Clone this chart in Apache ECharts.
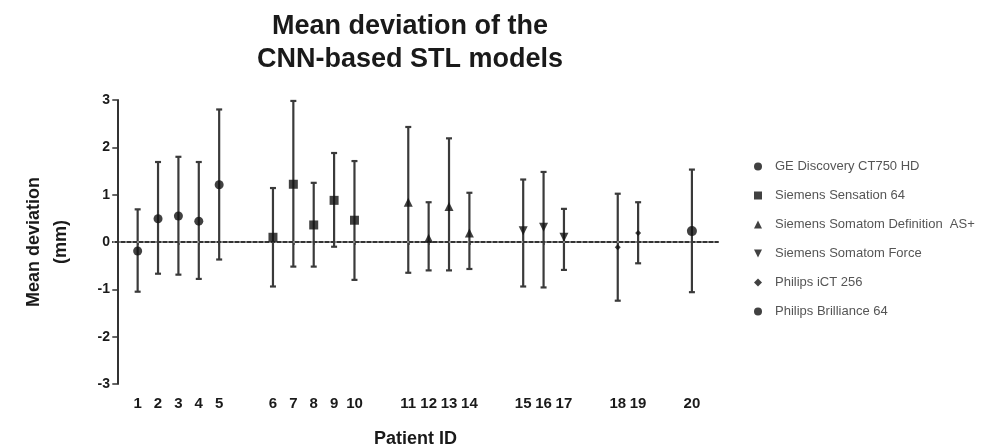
<!DOCTYPE html>
<html>
<head>
<meta charset="utf-8">
<script src="https://cdn.jsdelivr.net/npm/echarts@6/dist/echarts.min.js"></script>
<style>html,body{margin:0;padding:0;background:#fff;}#c{width:988px;height:448px;}</style>
</head>
<body>
<div id="c"></div>
<script>
// ---- data ----
var patients = [1,2,3,4,5,6,7,8,9,10,11,12,13,14,15,16,17,18,19,20];
var means = [-0.19,0.49,0.55,0.44,1.21, 0.10,1.22,0.36,0.88,0.46, 0.84,0.08,0.75,0.19, 0.24,0.31,0.10, -0.11,0.19, 0.23];
var lowers = [-1.05,-0.67,-0.69,-0.78,-0.37, -0.94,-0.52,-0.52,-0.10,-0.80, -0.65,-0.60,-0.60,-0.57, -0.94,-0.96,-0.59, -1.24,-0.45, -1.06];
var uppers = [0.69,1.69,1.80,1.69,2.80, 1.14,2.98,1.25,1.88,1.71, 2.43,0.84,2.19,1.04, 1.32,1.48,0.70, 1.02,0.84, 1.53];
var scanners = ['GE Discovery CT750 HD','Siemens Sensation 64','Siemens Somatom Definition  AS+','Siemens Somatom Force','Philips iCT 256','Philips Brilliance 64'];
var groupSizes = [5,5,4,3,2,1];
var yTicks = [-3,-2,-1,0,1,2,3];

// ---- layout helpers ----
var GAP = 1.64;
var groupOf = [];
groupSizes.forEach(function(n, g){ for (var k=0;k<n;k++) groupOf.push(g); });
var xPos = patients.map(function(p, i){ return (i+1) + groupOf[i]*GAP; });

var symbols = ['circle','rect','triangle','path://M0,0 L10,0 L5,10 Z','diamond','circle'];
var symSizes = [9,9,9,9,6,10];

var FONT = 'Liberation Sans, Arial, sans-serif';
var series = [];
scanners.forEach(function(name, g){
  var d = [];
  patients.forEach(function(p,i){ if (groupOf[i]===g) d.push([xPos[i], means[i]]); });
  series.push({
    name: name, type: 'scatter', data: d, symbol: symbols[g], symbolSize: symSizes[g],
    itemStyle: {color: '#111'}, z: 5
  });
});
series.push({
  type: 'custom', name: 'err', z: 3,
  data: patients.map(function(p,i){ return [xPos[i], lowers[i], uppers[i]]; }),
  renderItem: function(params, api){
    var lo = api.coord([api.value(0), api.value(1)]);
    var hi = api.coord([api.value(0), api.value(2)]);
    var w = 3;
    var st = {stroke:'#3a3a3a', lineWidth:2.2};
    return {type:'group', children:[
      {type:'line', shape:{x1:lo[0],y1:lo[1],x2:hi[0],y2:hi[1]}, style:st},
      {type:'line', shape:{x1:lo[0]-w,y1:lo[1],x2:lo[0]+w,y2:lo[1]}, style:st},
      {type:'line', shape:{x1:hi[0]-w,y1:hi[1],x2:hi[0]+w,y2:hi[1]}, style:st}
    ]};
  },
  markLine: {
    silent: true, symbol: 'none', label: {show:false},
    lineStyle: {type:[2,4], color:'#9a9a9a', width:1.5},
    data: [{yAxis: 0}]
  }
});

var chart = echarts.init(document.getElementById('c'));
chart.setOption({
  animation: false,
  backgroundColor: '#fff',
  textStyle: {fontFamily: FONT},
  title: {
    text: 'Mean deviation of the\nCNN-based STL models',
    left: 405, top: 5, textAlign: 'center',
    textStyle: {fontSize: 27, fontWeight: 'bold', color: '#1a1a1a', lineHeight: 33, fontFamily: FONT}
  },
  legend: {
    orient: 'vertical', left: 749, top: 155,
    itemWidth: 8, itemHeight: 8, itemGap: 16,
    textStyle: {fontSize: 13, color: '#555', fontFamily: FONT, padding: [0,0,0,8]},
    data: scanners.map(function(n,g){ return {name:n, icon: symbols[g], itemStyle:{color:'#111'}}; })
  },
  grid: {left: 113, right: 270, top: 100, bottom: 64, outerBoundsMode: 'none', containLabel: false},
  xAxis: {
    type: 'value', min: -0.21, max: 29.48,
    name: 'Patient ID', nameLocation: 'middle', nameGap: 46,
    nameTextStyle: {fontSize: 18, fontWeight: 'bold', color: '#1a1a1a'},
    splitLine: {show:false},
    axisLine: {show:true, lineStyle:{color:'#333', width:2}},
    axisTick: {show:true, customValues: xPos, length: 3, lineStyle:{color:'#444', width:1.5}},
    axisLabel: {
      customValues: xPos, margin: 12, fontSize: 15, fontWeight: 'bold', color: '#1a1a1a',
      formatter: function(v){
        for (var i=0;i<xPos.length;i++) if (Math.abs(xPos[i]-v)<1e-6) return String(patients[i]);
        return '';
      }
    }
  },
  yAxis: {
    type: 'value', min: -3, max: 3, interval: 1,
    name: 'Mean deviation\n(mm)', nameLocation: 'middle', nameGap: 38, nameRotate: 90,
    nameTextStyle: {fontSize: 18, fontWeight: 'bold', color: '#1a1a1a', lineHeight: 27},
    splitLine: {show:false},
    axisLine: {show:true, lineStyle:{color:'#333', width:2}},
    axisTick: {show:true, length: 5, lineStyle:{color:'#333', width:1.5}},
    axisLabel: {margin: 3, fontSize: 14, fontWeight: 'bold', color: '#1a1a1a',
      customValues: yTicks}
  },
  series: series
});
</script>
</body>
</html>
